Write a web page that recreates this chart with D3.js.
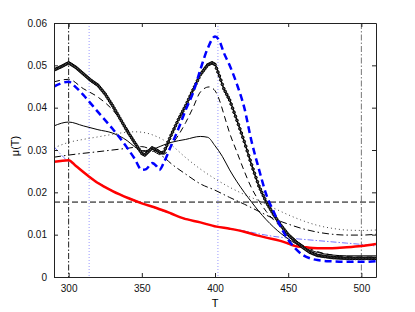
<!DOCTYPE html>
<html>
<head>
<meta charset="utf-8">
<script src="https://cdn.jsdelivr.net/npm/d3@7"></script>
<style>
  body { margin: 0; background: #fff; }
  text { font-family: "Liberation Sans", Arial, sans-serif; }
</style>
</head>
<body>
<div id="chart"></div>
<script>
// data: [T, mu]
var thickBlack = [[290,0.0489],[295,0.0497],[300,0.0506],[305,0.0495],[310,0.048],[315,0.0465],[320,0.0453],[325,0.0432],[330,0.0405],[335,0.0375],[340,0.0345],[345,0.0318],[350,0.0292],[352,0.0288],[355,0.0298],[357,0.0305],[360,0.03],[363,0.0293],[365,0.0295],[370,0.0335],[375,0.0372],[380,0.0405],[385,0.0442],[390,0.0478],[395,0.0501],[398,0.0506],[400,0.0502],[403,0.0475],[406,0.0445],[410,0.0418],[415,0.037],[420,0.032],[425,0.0265],[430,0.0215],[435,0.0177],[440,0.0148],[445,0.0122],[450,0.01],[455,0.0084],[460,0.007],[465,0.0058],[470,0.0051],[480,0.0046],[490,0.0044],[500,0.0044],[510,0.0044]];
var blueDashed = [[290,0.045],[300,0.0461],[305,0.0448],[310,0.043],[320,0.039],[330,0.035],[340,0.0305],[345,0.028],[350,0.0253],[353,0.0255],[357,0.0269],[360,0.0262],[362,0.0253],[365,0.027],[370,0.031],[375,0.035],[380,0.0395],[385,0.0435],[390,0.049],[395,0.054],[400,0.0568],[403,0.0558],[406,0.053],[410,0.05],[415,0.0455],[420,0.04],[425,0.032],[430,0.0255],[435,0.0195],[440,0.0155],[445,0.0118],[450,0.0088],[455,0.0067],[460,0.0052],[465,0.0044],[470,0.004],[480,0.0037],[490,0.0036],[500,0.0036],[510,0.0037]];
var thinDashed = [[290,0.0461],[300,0.0467],[310,0.0445],[320,0.0425],[330,0.0395],[340,0.035],[350,0.0298],[355,0.0296],[360,0.0298],[365,0.029],[370,0.031],[375,0.0335],[380,0.0365],[385,0.04],[390,0.0437],[396,0.0449],[400,0.044],[403,0.0418],[406,0.0385],[410,0.034],[415,0.0295],[420,0.025],[425,0.021],[430,0.018],[435,0.0155],[440,0.0135],[445,0.0118],[450,0.0102],[460,0.0075],[470,0.006],[480,0.0052],[490,0.0048],[500,0.0047],[510,0.0047]];
var thinSolid = [[290,0.0357],[300,0.0366],[310,0.0357],[320,0.0348],[330,0.034],[340,0.0322],[345,0.0308],[350,0.0298],[355,0.03],[360,0.0305],[365,0.0312],[370,0.0318],[380,0.0325],[390,0.0332],[395,0.033],[400,0.031],[405,0.0285],[410,0.0253],[415,0.0225],[420,0.02],[425,0.0177],[430,0.0155],[440,0.0118],[450,0.009],[460,0.007],[470,0.0058],[480,0.0052],[490,0.005],[500,0.005],[510,0.005]];
var dotted = [[290,0.0305],[300,0.0318],[310,0.0325],[320,0.0331],[330,0.0337],[340,0.0342],[345,0.0343],[350,0.0342],[360,0.0332],[370,0.0312],[380,0.0282],[390,0.0255],[400,0.0232],[410,0.0212],[420,0.0195],[430,0.018],[440,0.0163],[450,0.0147],[460,0.0133],[470,0.0122],[480,0.0115],[490,0.0111],[500,0.011],[510,0.0111]];
var dashDot = [[290,0.0283],[300,0.0288],[320,0.0296],[340,0.0304],[350,0.0308],[355,0.0303],[360,0.0293],[365,0.0283],[370,0.0268],[380,0.0243],[390,0.022],[400,0.0205],[410,0.0188],[420,0.0172],[430,0.0155],[440,0.0138],[450,0.0125],[460,0.0114],[470,0.0106],[480,0.0101],[490,0.0099],[500,0.0099],[510,0.0101]];
var red = [[290,0.0272],[300,0.0276],[305,0.0262],[314,0.0237],[320,0.0222],[330,0.0203],[341,0.0186],[350,0.0174],[360,0.0163],[370,0.015],[378,0.0139],[390,0.0129],[401,0.0119],[410,0.0114],[420,0.0107],[428,0.0099],[435,0.0093],[444,0.0086],[450,0.0079],[455,0.0073],[460,0.0071],[470,0.0068],[480,0.0068],[490,0.007],[500,0.0073],[510,0.0078]];
var lightBlue = [[290,0.0308],[294,0.0292],[298,0.0278],[305,0.0263],[314,0.0238],[330,0.0204],[350,0.0175],[378,0.014],[401,0.012],[420,0.0109],[430,0.0102],[440,0.0096],[450,0.0092],[460,0.0089],[470,0.0086],[480,0.0083],[490,0.008],[500,0.0077],[510,0.0073]];
var vDashDot = [300, 500];
var vDotted = [314, 402];
var hDashed = 0.0177;
var xTicks = [300, 350, 400, 450, 500];
var yTicks = [0, 0.01, 0.02, 0.03, 0.04, 0.05, 0.06];

var svgWidth = 415, svgHeight = 312;
var margin = {top: 23, right: 39, bottom: 35, left: 54};
var width = svgWidth - margin.left - margin.right;
var height = svgHeight - margin.top - margin.bottom;

var svg = d3.select("#chart").append("svg")
  .attr("width", svgWidth).attr("height", svgHeight);
var g = svg.append("g")
  .attr("transform", `translate(${margin.left}, ${margin.top})`);

var x = d3.scaleLinear().domain([290, 510]).range([0, width]);
var y = d3.scaleLinear().domain([0, 0.06]).range([height, 0]);

var clip = svg.append("clipPath").attr("id", "clip")
  .append("rect").attr("width", width).attr("height", height);
var plot = g.append("g").attr("clip-path", "url(#clip)");

var line = d3.line().x(d => x(d[0])).y(d => y(d[1])).curve(d3.curveMonotoneX);

// reference lines
plot.selectAll(".vdd").data(vDashDot).enter().append("line")
  .attr("x1", d => x(d)).attr("x2", d => x(d)).attr("y1", 0).attr("y2", height)
  .attr("stroke", (d, i) => i === 0 ? "#222" : "#777").attr("stroke-width", 1)
  .attr("stroke-dasharray", "6,2,1.5,2");
plot.selectAll(".vdot").data(vDotted).enter().append("line")
  .attr("x1", d => x(d)).attr("x2", d => x(d)).attr("y1", 0).attr("y2", height)
  .attr("stroke", "#9999ff").attr("stroke-width", 1).attr("stroke-dasharray", "1,2");
plot.append("line")
  .attr("x1", 0).attr("x2", width).attr("y1", y(hDashed)).attr("y2", y(hDashed))
  .attr("stroke", "#000").attr("stroke-width", 1).attr("stroke-dasharray", "6,3");

function addLine(data, color, w, dash) {
  plot.append("path").datum(data).attr("d", line)
    .attr("fill", "none").attr("stroke", color).attr("stroke-width", w)
    .attr("stroke-dasharray", dash || null);
}

addLine(lightBlue, "#7777ff", 1, "6,2,1.5,2");
addLine(dotted, "#444", 1, "1,3");
addLine(dashDot, "#000", 1, "7,3,1.5,3");
addLine(thinSolid, "#000", 1);
addLine(thinDashed, "#000", 1, "6,4");
addLine(red, "#ff0000", 2.5);

// thick black curve drawn as densely spaced open circles
var dense = d3.range(290, 510.5, 1).map(function(t) {
  var i = d3.bisector(d => d[0]).left(thickBlack, t);
  if (i <= 0) return thickBlack[0];
  var a = thickBlack[i - 1], b = thickBlack[i];
  var k = (t - a[0]) / (b[0] - a[0]);
  return [t, a[1] + k * (b[1] - a[1])];
});
addLine(thickBlack, "#000", 1.5);
plot.selectAll(".mk").data(dense).enter().append("circle")
  .attr("cx", d => x(d[0])).attr("cy", d => y(d[1])).attr("r", 1.3)
  .attr("fill", "#555").attr("stroke", "#000").attr("stroke-width", 1);

addLine(blueDashed, "#0000ff", 2.5, "7,4");

// axes, matlab style box with inward ticks
var bottomAxis = d3.axisBottom(x).tickValues(xTicks).tickSizeInner(-4).tickSizeOuter(0).tickPadding(8);
var leftAxis = d3.axisLeft(y).tickValues(yTicks).tickSizeInner(-4).tickSizeOuter(0).tickPadding(7)
  .tickFormat(d => d === 0 ? "0" : d3.format(".2f")(d));
var topAxis = d3.axisTop(x).tickValues(xTicks).tickSizeInner(-4).tickSizeOuter(0).tickFormat("");
var rightAxis = d3.axisRight(y).tickValues(yTicks).tickSizeInner(-4).tickSizeOuter(0).tickFormat("");

var ax = [
  g.append("g").attr("transform", `translate(0, ${height})`).call(bottomAxis),
  g.append("g").call(leftAxis),
  g.append("g").call(topAxis),
  g.append("g").attr("transform", `translate(${width}, 0)`).call(rightAxis)
];
ax.forEach(function(a) {
  a.select(".domain").attr("stroke", "#222");
  a.selectAll(".tick line").attr("stroke", "#222");
  a.selectAll("text").attr("font-size", 10).attr("fill", "#111")
    .style("font-family", "Liberation Sans, Arial, sans-serif");
});

g.append("text")
  .attr("x", width / 2).attr("y", height + 30)
  .attr("text-anchor", "middle").attr("font-size", 11).text("T");
g.append("text")
  .attr("transform", "rotate(-90)")
  .attr("x", -height / 2 + 4).attr("y", -35)
  .attr("text-anchor", "middle").attr("font-size", 11).text("μ(T)");
</script>
</body>
</html>
